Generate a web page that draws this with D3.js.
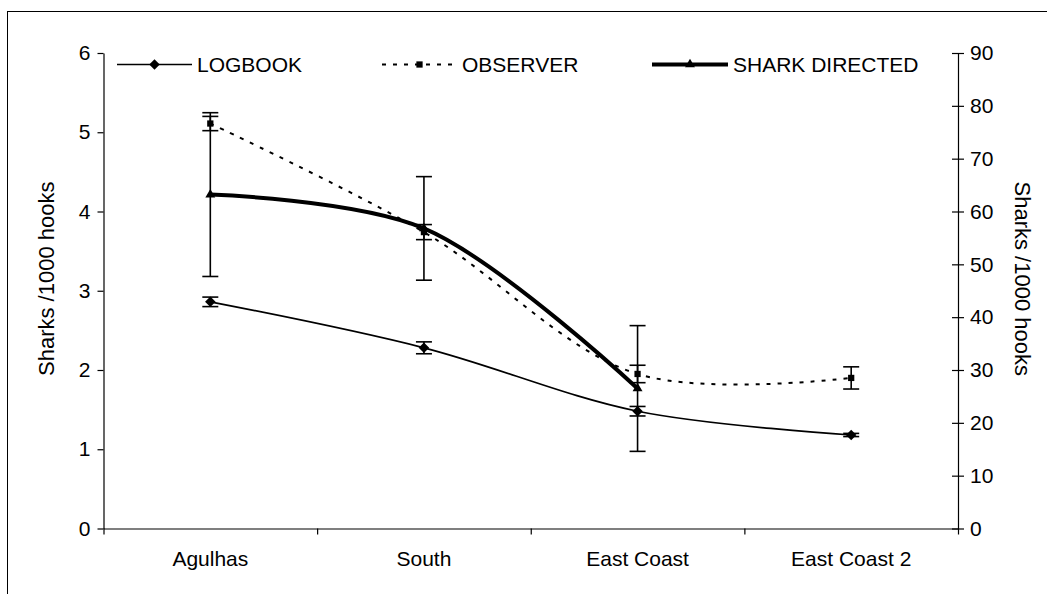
<!DOCTYPE html>
<html>
<head>
<meta charset="utf-8">
<script src="https://cdn.jsdelivr.net/npm/d3@7/dist/d3.min.js"></script>
<style>
  html, body { margin: 0; padding: 0; background: #fff; }
  svg { display: block; font-family: "Liberation Sans", Arial, sans-serif; }
  .axis text { font-size: 21px; fill: #000; }
  .axis path, .axis line { stroke: #000; stroke-width: 1.2; }
</style>
</head>
<body>
<svg id="chart" width="1047" height="594"></svg>
<script>
// Catch rates by fishing area
const categories = ["Agulhas", "South", "East Coast", "East Coast 2"];

// LOGBOOK and OBSERVER are read against the left axis
const logbook = [2.86, 2.28, 1.48, 1.18];
const logbookErr = [0.06, 0.075, 0.06, 0.02];
const observer = [5.11, 3.74, 1.95, 1.90];
const observerErr = [0.09, 0.095, 0.11, 0.14];

// SHARK DIRECTED is read against the right axis
const sharkDirected = [63.2, 56.8, 26.5];
const sharkDirectedErr = [15.5, 9.8, 11.9];

const leftTicks = [0, 1, 2, 3, 4, 5, 6];
const rightTicks = [0, 10, 20, 30, 40, 50, 60, 70, 80, 90];
const axisTitle = "Sharks /1000 hooks";
const legendNames = ["LOGBOOK", "OBSERVER", "SHARK DIRECTED"];

const svg = d3.select("#chart");

// outer frame
svg.append("rect")
  .attr("x", 7.5).attr("y", 11.5)
  .attr("width", 1200).attr("height", 800)
  .attr("fill", "none").attr("stroke", "#000").attr("stroke-width", 1);

const plot = { left: 103.5, right: 958, top: 53, bottom: 528.5 };

const x = d3.scaleBand().domain(categories).range([plot.left, plot.right]);
const xEdge = d3.scaleLinear().domain([0, categories.length]).range([plot.left, plot.right]);
const yL = d3.scaleLinear().domain([0, 6]).range([plot.bottom, plot.top]);
const yR = d3.scaleLinear().domain([0, 90]).range([plot.bottom, plot.top]);
const cx = c => x(c) + x.bandwidth() / 2;

// left axis
svg.append("g").attr("class", "axis")
  .attr("transform", `translate(${plot.left},0)`)
  .call(d3.axisLeft(yL).tickValues(leftTicks).tickFormat(d3.format("d"))
    .tickSize(6).tickSizeOuter(0).tickPadding(7));

// right axis with ticks crossing the line
const gR = svg.append("g").attr("class", "axis")
  .attr("transform", `translate(${plot.right},0)`)
  .call(d3.axisRight(yR).tickValues(rightTicks).tickFormat(d3.format("d"))
    .tickSize(6).tickSizeOuter(0).tickPadding(6));
gR.selectAll(".tick line").attr("x1", -6).attr("x2", 6);

// category axis: ticks between categories, labels at band centres
svg.append("g").attr("class", "axis")
  .attr("transform", `translate(0,${plot.bottom})`)
  .call(d3.axisBottom(xEdge).tickValues(d3.range(categories.length + 1)).tickFormat("").tickSize(6).tickSizeOuter(0));
const gX = svg.append("g").attr("class", "axis")
  .attr("transform", `translate(0,${plot.bottom})`)
  .call(d3.axisBottom(x).tickSize(0).tickPadding(23));
gX.select(".domain").remove();

// axis titles
svg.append("text")
  .attr("transform", `translate(46,${(plot.top + plot.bottom) / 2 - 12}) rotate(-90)`)
  .attr("text-anchor", "middle").attr("dominant-baseline", "central")
  .attr("font-size", 22).text(axisTitle);
svg.append("text")
  .attr("transform", `translate(1022,${(plot.top + plot.bottom) / 2 - 12}) rotate(90)`)
  .attr("text-anchor", "middle").attr("dominant-baseline", "central")
  .attr("font-size", 22).text(axisTitle);

const curve = d3.curveCatmullRom.alpha(0.5);

function errorBars(vals, errs, y) {
  const g = svg.append("g").attr("stroke", "#000").attr("stroke-width", 1.6);
  vals.forEach((v, i) => {
    const xc = cx(categories[i]);
    g.append("line").attr("x1", xc).attr("x2", xc).attr("y1", y(v - errs[i])).attr("y2", y(v + errs[i]));
    [v - errs[i], v + errs[i]].forEach(e => {
      g.append("line").attr("x1", xc - 8).attr("x2", xc + 8).attr("y1", y(e)).attr("y2", y(e));
    });
  });
}

errorBars(logbook, logbookErr, yL);
errorBars(observer, observerErr, yL);
errorBars(sharkDirected, sharkDirectedErr, yR);

const lineOf = y => d3.line().x((d, i) => cx(categories[i])).y(d => y(d)).curve(curve);

svg.append("path").datum(logbook).attr("d", lineOf(yL))
  .attr("fill", "none").attr("stroke", "#000").attr("stroke-width", 1.7);
svg.append("path").datum(observer).attr("d", lineOf(yL))
  .attr("fill", "none").attr("stroke", "#000").attr("stroke-width", 2).attr("stroke-dasharray", "4,7");
svg.append("path").datum(sharkDirected).attr("d", lineOf(yR))
  .attr("fill", "none").attr("stroke", "#000").attr("stroke-width", 4);

const diamond = d3.symbol().type(d3.symbolDiamond2).size(70)();
const square = d3.symbol().type(d3.symbolSquare2).size(50)();
const triangle = d3.symbol().type(d3.symbolTriangle2).size(70)();

function markers(vals, y, path) {
  svg.append("g").selectAll("path").data(vals).join("path")
    .attr("d", path)
    .attr("transform", (d, i) => `translate(${cx(categories[i])},${y(d)})`)
    .attr("fill", "#000");
}
markers(logbook, yL, diamond);
markers(observer, yL, square);
markers(sharkDirected, yR, triangle);

// legend
const legendY = 64.5;
const legendItems = [
  { name: legendNames[0], x0: 117, x1: 192, sym: diamond, width: 1.7, dash: null },
  { name: legendNames[1], x0: 382, x1: 457, sym: square, width: 2, dash: "4,7" },
  { name: legendNames[2], x0: 652, x1: 728, sym: triangle, width: 4, dash: null }
];
const lg = svg.append("g");
legendItems.forEach(it => {
  lg.append("line").attr("x1", it.x0).attr("x2", it.x1).attr("y1", legendY).attr("y2", legendY)
    .attr("stroke", "#000").attr("stroke-width", it.width).attr("stroke-dasharray", it.dash);
  lg.append("path").attr("d", it.sym).attr("fill", "#000")
    .attr("transform", `translate(${(it.x0 + it.x1) / 2},${legendY})`);
  lg.append("text").attr("x", it.x1 + 5).attr("y", legendY).attr("dy", "0.35em")
    .attr("font-size", 21).text(it.name);
});
</script>
</body>
</html>
